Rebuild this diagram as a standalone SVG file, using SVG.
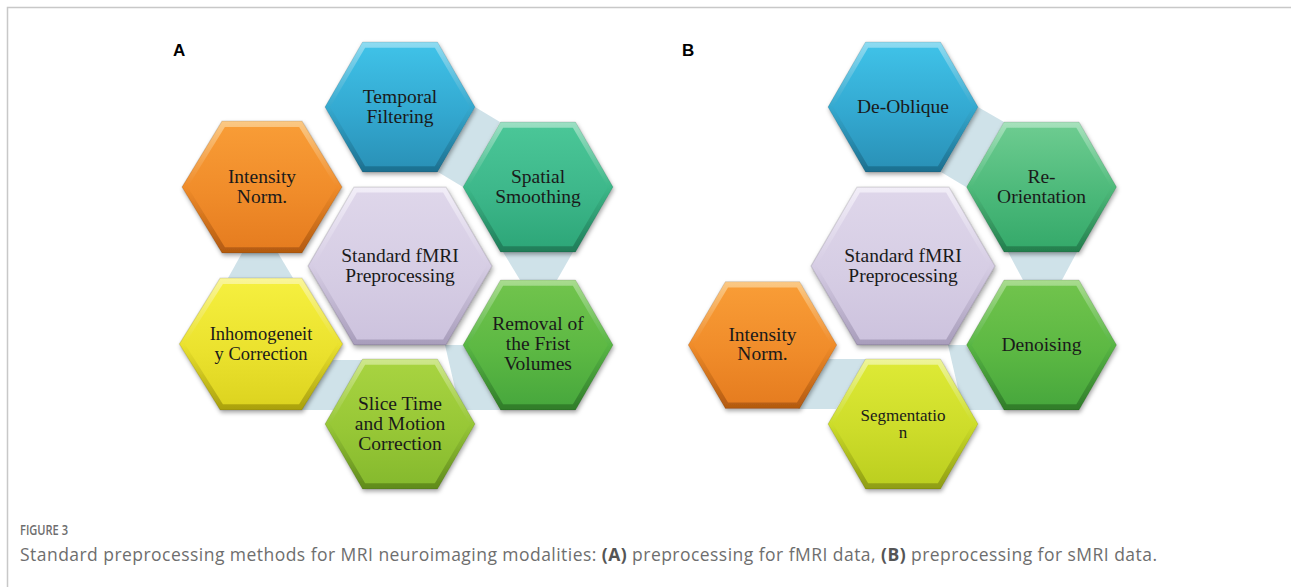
<svg xmlns="http://www.w3.org/2000/svg" xmlns:xlink="http://www.w3.org/1999/xlink" width="1291" height="587" viewBox="0 0 1291 587">
<style>
.lbl{font-family:"Liberation Serif","Times New Roman",serif;font-size:19.5px;fill:#1a1a1a;text-anchor:middle}
.sm{font-size:18.5px}
.xs{font-size:17px}
.conn{fill:#cfe2e9}
.pl{font-family:"Liberation Sans",Arial,sans-serif;font-weight:bold;font-size:17px;fill:#000}
.cap{font-family:"Open Sans","Liberation Sans",sans-serif;fill:#6e6e6e}
.capb{font-weight:bold;fill:#555}
.frame{stroke:#c8c8c8;stroke-width:1.5;fill:none}
.o{stroke:rgba(0,0,0,0.12);stroke-width:1;vector-effect:non-scaling-stroke}
</style>
<defs>
<path id="hex" d="M-75,0 L-37.5,-65 L37.5,-65 L75,0 L37.5,65 L-37.5,65Z"/>
<filter id="sh" x="-20%" y="-20%" width="140%" height="145%">
<feDropShadow dx="1" dy="2.5" stdDeviation="2" flood-color="#000" flood-opacity="0.35"/>
</filter>
<linearGradient id="oBlue" x1="0" y1="0" x2="0" y2="1"><stop offset="0" stop-color="#8fdcf2"/><stop offset="0.5" stop-color="#35a9cf"/><stop offset="1" stop-color="#1d6f8f"/></linearGradient>
<linearGradient id="iBlue" x1="0" y1="0" x2="0" y2="1"><stop offset="0" stop-color="#3fc1e7"/><stop offset="0.55" stop-color="#33a8d0"/><stop offset="1" stop-color="#2a92b8"/></linearGradient>
<linearGradient id="oTeal" x1="0" y1="0" x2="0" y2="1"><stop offset="0" stop-color="#9de0c4"/><stop offset="0.5" stop-color="#3cb889"/><stop offset="1" stop-color="#1f7c58"/></linearGradient>
<linearGradient id="iTeal" x1="0" y1="0" x2="0" y2="1"><stop offset="0" stop-color="#4ac697"/><stop offset="0.55" stop-color="#3db78a"/><stop offset="1" stop-color="#2ea779"/></linearGradient>
<linearGradient id="oMint" x1="0" y1="0" x2="0" y2="1"><stop offset="0" stop-color="#a8e2bd"/><stop offset="0.5" stop-color="#4fbb7b"/><stop offset="1" stop-color="#237e4d"/></linearGradient>
<linearGradient id="iMint" x1="0" y1="0" x2="0" y2="1"><stop offset="0" stop-color="#6ccb8f"/><stop offset="0.55" stop-color="#4cb97a"/><stop offset="1" stop-color="#36aa6b"/></linearGradient>
<linearGradient id="oGreen" x1="0" y1="0" x2="0" y2="1"><stop offset="0" stop-color="#a9dc8f"/><stop offset="0.5" stop-color="#58b644"/><stop offset="1" stop-color="#2f7c2a"/></linearGradient>
<linearGradient id="iGreen" x1="0" y1="0" x2="0" y2="1"><stop offset="0" stop-color="#70c34c"/><stop offset="0.55" stop-color="#5cb843"/><stop offset="1" stop-color="#48a83d"/></linearGradient>
<linearGradient id="oLime" x1="0" y1="0" x2="0" y2="1"><stop offset="0" stop-color="#cfe78d"/><stop offset="0.5" stop-color="#97c737"/><stop offset="1" stop-color="#5f8a1c"/></linearGradient>
<linearGradient id="iLime" x1="0" y1="0" x2="0" y2="1"><stop offset="0" stop-color="#a7d340"/><stop offset="0.55" stop-color="#97c736"/><stop offset="1" stop-color="#86ba2e"/></linearGradient>
<linearGradient id="oYlime" x1="0" y1="0" x2="0" y2="1"><stop offset="0" stop-color="#eef59a"/><stop offset="0.5" stop-color="#cddd2a"/><stop offset="1" stop-color="#8e9c12"/></linearGradient>
<linearGradient id="iYlime" x1="0" y1="0" x2="0" y2="1"><stop offset="0" stop-color="#dde935"/><stop offset="0.55" stop-color="#cddc2a"/><stop offset="1" stop-color="#bccf20"/></linearGradient>
<linearGradient id="oYellow" x1="0" y1="0" x2="0" y2="1"><stop offset="0" stop-color="#faf69a"/><stop offset="0.5" stop-color="#ebe22e"/><stop offset="1" stop-color="#a9a00e"/></linearGradient>
<linearGradient id="iYellow" x1="0" y1="0" x2="0" y2="1"><stop offset="0" stop-color="#f5ef3e"/><stop offset="0.55" stop-color="#ebe22e"/><stop offset="1" stop-color="#ddd420"/></linearGradient>
<linearGradient id="oOrange" x1="0" y1="0" x2="0" y2="1"><stop offset="0" stop-color="#fbc985"/><stop offset="0.5" stop-color="#f08c2a"/><stop offset="1" stop-color="#b35a10"/></linearGradient>
<linearGradient id="iOrange" x1="0" y1="0" x2="0" y2="1"><stop offset="0" stop-color="#f89c36"/><stop offset="0.55" stop-color="#f08c2a"/><stop offset="1" stop-color="#e67d20"/></linearGradient>
<linearGradient id="oLav" x1="0" y1="0" x2="0" y2="1"><stop offset="0" stop-color="#f2eef8"/><stop offset="0.5" stop-color="#d6cde4"/><stop offset="1" stop-color="#a89dbb"/></linearGradient>
<linearGradient id="iLav" x1="0" y1="0" x2="0" y2="1"><stop offset="0" stop-color="#ded6ea"/><stop offset="0.55" stop-color="#d6cde4"/><stop offset="1" stop-color="#cdc3de"/></linearGradient>
</defs>

<rect x="0" y="0" width="1291" height="587" fill="#fff"/>
<path class="frame" d="M7.5,587 V7.5 H1291"/>

<text class="pl" x="173" y="56">A</text>
<text class="pl" x="682" y="56">B</text>

<g id="connectors">
<polygon class="conn" points="475,107 500,122 463,187 438,172"/>
<polygon class="conn" points="503,252 573,252 557,280 520,280"/>
<polygon class="conn" points="445,345 463,345 500,410 460,410"/>
<polygon class="conn" points="330,360 365,360 333,410 300,410"/>
<polygon class="conn" points="242,253 278,253 293,278 228,278"/>
<polygon class="conn" points="978,107 1004,122 966,187 941,172"/>
<polygon class="conn" points="1008,252 1077,252 1062,280 1023,280"/>
<polygon class="conn" points="948,345 966,345 1004,410 963,410"/>
<polygon class="conn" points="826,359 866,359 836,409 798,409"/>
</g>

<!-- Panel A -->
<g id="a-temporal" transform="translate(400,107)">
<use href="#hex" class="o" fill="url(#oBlue)" filter="url(#sh)"/>
<use href="#hex" transform="scale(0.93,0.91)" fill="url(#iBlue)"/>
<text class="lbl" x="0" y="-4">Temporal</text>
<text class="lbl" x="0" y="16">Filtering</text>
</g>
<g id="a-intensity" transform="translate(262,187)">
<use href="#hex" class="o" transform="scale(1.067,1.015)" fill="url(#oOrange)" filter="url(#sh)"/>
<use href="#hex" transform="scale(0.99,0.925)" fill="url(#iOrange)"/>
<text class="lbl" x="0" y="-4">Intensity</text>
<text class="lbl" x="0" y="16">Norm.</text>
</g>
<g id="a-spatial" transform="translate(538,187)">
<use href="#hex" class="o" fill="url(#oTeal)" filter="url(#sh)"/>
<use href="#hex" transform="scale(0.93,0.91)" fill="url(#iTeal)"/>
<text class="lbl" x="0" y="-4">Spatial</text>
<text class="lbl" x="0" y="16">Smoothing</text>
</g>
<g id="a-standard" transform="translate(400,266)">
<use href="#hex" class="o" transform="scale(1.227,1.215)" fill="url(#oLav)" filter="url(#sh)"/>
<use href="#hex" transform="scale(1.15,1.13)" fill="url(#iLav)"/>
<text class="lbl" x="0" y="-4">Standard fMRI</text>
<text class="lbl" x="0" y="16">Preprocessing</text>
</g>
<g id="a-removal" transform="translate(538,345)">
<use href="#hex" class="o" fill="url(#oGreen)" filter="url(#sh)"/>
<use href="#hex" transform="scale(0.93,0.91)" fill="url(#iGreen)"/>
<text class="lbl" x="0" y="-15">Removal of</text>
<text class="lbl" x="0" y="5">the Frist</text>
<text class="lbl" x="0" y="25">Volumes</text>
</g>
<g id="a-inhomogeneity" transform="translate(261,344)">
<use href="#hex" class="o" transform="scale(1.09,1.015)" fill="url(#oYellow)" filter="url(#sh)"/>
<use href="#hex" transform="scale(1.015,0.925)" fill="url(#iYellow)"/>
<text class="lbl sm" x="0" y="-4">Inhomogeneit</text>
<text class="lbl sm" x="0" y="15.5">y Correction</text>
</g>
<g id="a-slice" transform="translate(400,424)">
<use href="#hex" class="o" fill="url(#oLime)" filter="url(#sh)"/>
<use href="#hex" transform="scale(0.93,0.91)" fill="url(#iLime)"/>
<text class="lbl" x="0" y="-14">Slice Time</text>
<text class="lbl" x="0" y="6">and Motion</text>
<text class="lbl" x="0" y="26">Correction</text>
</g>

<!-- Panel B -->
<g id="b-deoblique" transform="translate(903,107)">
<use href="#hex" class="o" fill="url(#oBlue)" filter="url(#sh)"/>
<use href="#hex" transform="scale(0.93,0.91)" fill="url(#iBlue)"/>
<text class="lbl" x="0" y="6">De-Oblique</text>
</g>
<g id="b-reorientation" transform="translate(1041.5,187)">
<use href="#hex" class="o" fill="url(#oMint)" filter="url(#sh)"/>
<use href="#hex" transform="scale(0.93,0.91)" fill="url(#iMint)"/>
<text class="lbl" x="0" y="-4">Re-</text>
<text class="lbl" x="0" y="16">Orientation</text>
</g>
<g id="b-standard" transform="translate(903,266)">
<use href="#hex" class="o" transform="scale(1.227,1.215)" fill="url(#oLav)" filter="url(#sh)"/>
<use href="#hex" transform="scale(1.15,1.13)" fill="url(#iLav)"/>
<text class="lbl" x="0" y="-4">Standard fMRI</text>
<text class="lbl" x="0" y="16">Preprocessing</text>
</g>
<g id="b-denoising" transform="translate(1041.5,345)">
<use href="#hex" class="o" fill="url(#oGreen)" filter="url(#sh)"/>
<use href="#hex" transform="scale(0.93,0.91)" fill="url(#iGreen)"/>
<text class="lbl" x="0" y="5.5">Denoising</text>
</g>
<g id="b-intensity" transform="translate(762.5,345)">
<use href="#hex" class="o" transform="scale(0.99,0.975)" fill="url(#oOrange)" filter="url(#sh)"/>
<use href="#hex" transform="scale(0.92,0.885)" fill="url(#iOrange)"/>
<text class="lbl" x="0" y="-4">Intensity</text>
<text class="lbl" x="0" y="15">Norm.</text>
</g>
<g id="b-segmentation" transform="translate(903,424)">
<use href="#hex" class="o" fill="url(#oYlime)" filter="url(#sh)"/>
<use href="#hex" transform="scale(0.93,0.91)" fill="url(#iYlime)"/>
<text class="lbl xs" x="0" y="-3">Segmentatio</text>
<text class="lbl xs" x="0" y="14">n</text>
</g>

<g id="caption">
<text class="cap" x="20" y="535" font-size="14.5" font-weight="600" textLength="48" lengthAdjust="spacingAndGlyphs">FIGURE 3</text>
<text class="cap" x="20" y="561" font-size="17.5" textLength="1137" lengthAdjust="spacing">Standard preprocessing methods for MRI neuroimaging modalities: <tspan class="capb">(A)</tspan> preprocessing for fMRI data, <tspan class="capb">(B)</tspan> preprocessing for sMRI data.</text>
</g>
</svg>
